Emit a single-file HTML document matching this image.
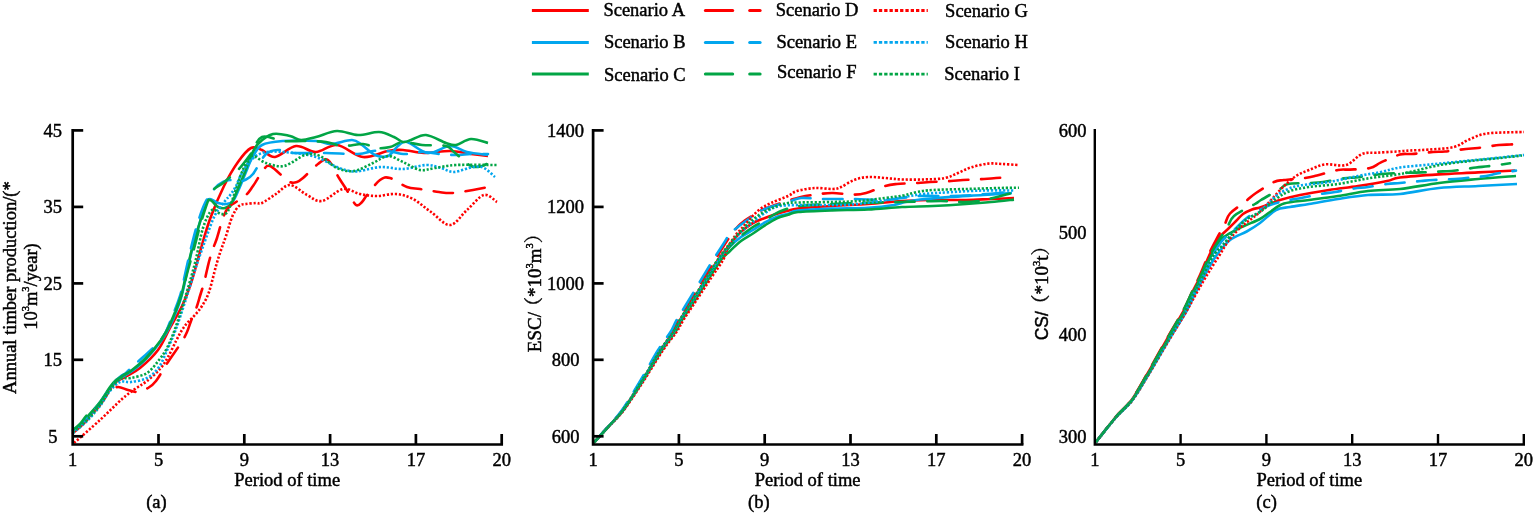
<!DOCTYPE html>
<html><head><meta charset="utf-8"><title>Figure</title>
<style>html,body{margin:0;padding:0;background:#fff;width:1535px;height:514px;overflow:hidden;position:relative}</style>
</head><body>
<svg width="1535" height="514" viewBox="0 0 1535 514" style="position:absolute;left:0;top:0">
<g font-family="'Liberation Serif','Noto Serif CJK SC',serif" font-size="18.5" fill="#000" stroke="#000" stroke-width="0.45">
<line x1="531.9" y1="10.5" x2="588.8" y2="10.5" stroke="#ff0000" stroke-width="3"/>
<line x1="705.4" y1="10.5" x2="732.7" y2="10.5" stroke="#ff0000" stroke-width="3" stroke-linecap="round"/>
<line x1="749.7" y1="10.5" x2="760.1" y2="10.5" stroke="#ff0000" stroke-width="3" stroke-linecap="round"/>
<line x1="873.6" y1="10.5" x2="927.8" y2="10.5" stroke="#ff0000" stroke-width="2.9" stroke-dasharray="3.3 2"/>
<line x1="531.9" y1="42.4" x2="588.8" y2="42.4" stroke="#02a6ee" stroke-width="3"/>
<line x1="705.4" y1="42.4" x2="732.7" y2="42.4" stroke="#02a6ee" stroke-width="3" stroke-linecap="round"/>
<line x1="749.7" y1="42.4" x2="760.1" y2="42.4" stroke="#02a6ee" stroke-width="3" stroke-linecap="round"/>
<line x1="873.6" y1="42.4" x2="927.8" y2="42.4" stroke="#02a6ee" stroke-width="2.9" stroke-dasharray="3.3 2"/>
<line x1="531.9" y1="74.1" x2="588.8" y2="74.1" stroke="#02a545" stroke-width="3"/>
<line x1="705.4" y1="74.1" x2="732.7" y2="74.1" stroke="#02a545" stroke-width="3" stroke-linecap="round"/>
<line x1="749.7" y1="74.1" x2="760.1" y2="74.1" stroke="#02a545" stroke-width="3" stroke-linecap="round"/>
<line x1="873.6" y1="74.1" x2="927.8" y2="74.1" stroke="#02a545" stroke-width="2.9" stroke-dasharray="3.3 2"/>
<text x="603.4" y="16.0">Scenario A</text>
<text x="603.9" y="48.1">Scenario B</text>
<text x="604.0" y="81.4">Scenario C</text>
<text x="775.7" y="16.1">Scenario D</text>
<text x="776.4" y="47.7">Scenario E</text>
<text x="776.9" y="78.3">Scenario F</text>
<text x="945.1" y="16.5">Scenario G</text>
<text x="945.1" y="47.7">Scenario H</text>
<text x="944.3" y="80.1">Scenario I</text>
<path d="M73.0,432.0 C74.2,431.0 77.5,428.3 80.0,426.0 C82.5,423.7 84.7,421.7 88.0,418.0 C91.3,414.3 96.3,408.8 100.0,404.0 C103.7,399.2 107.3,392.7 110.0,389.0 C112.7,385.3 113.5,384.0 116.0,382.0 C118.5,380.0 121.0,379.3 125.0,377.0 C129.0,374.7 134.5,372.5 140.0,368.0 C145.5,363.5 153.0,356.7 158.0,350.0 C163.0,343.3 165.8,335.7 170.0,328.0 C174.2,320.3 179.3,312.0 183.0,304.0 C186.7,296.0 189.2,288.7 192.0,280.0 C194.8,271.3 197.0,262.2 200.0,252.0 C203.0,241.8 206.0,230.0 210.0,219.0 C214.0,208.0 219.3,195.5 224.0,186.0 C228.7,176.5 233.5,168.3 238.0,162.0 C242.5,155.7 247.0,150.0 251.0,148.0 C255.0,146.0 258.0,148.5 262.0,150.0 C266.0,151.5 269.3,157.7 275.0,157.0 C280.7,156.3 289.2,146.8 296.0,146.0 C302.8,145.2 309.2,152.2 316.0,152.0 C322.8,151.8 329.2,144.2 337.0,145.0 C344.8,145.8 354.5,156.0 363.0,157.0 C371.5,158.0 381.3,152.2 388.0,151.0 C394.7,149.8 397.0,149.7 403.0,150.0 C409.0,150.3 416.2,152.8 424.0,153.0 C431.8,153.2 442.2,150.8 450.0,151.0 C457.8,151.2 464.7,153.2 471.0,154.0 C477.3,154.8 485.2,155.7 488.0,156.0" fill="none" stroke="#ff0000" stroke-width="2.6"/>
<path d="M73.0,431.0 C74.2,430.0 77.5,427.3 80.0,425.0 C82.5,422.7 84.7,420.7 88.0,417.0 C91.3,413.3 96.3,407.8 100.0,403.0 C103.7,398.2 107.3,391.7 110.0,388.0 C112.7,384.3 114.0,382.8 116.0,381.0 C118.0,379.2 119.3,378.7 122.0,377.0 C124.7,375.3 128.0,374.0 132.0,371.0 C136.0,368.0 141.2,364.0 146.0,359.0 C150.8,354.0 157.0,346.5 161.0,341.0 C165.0,335.5 166.7,333.2 170.0,326.0 C173.3,318.8 178.2,307.0 181.0,298.0 C183.8,289.0 185.0,280.7 187.0,272.0 C189.0,263.3 190.8,254.3 193.0,246.0 C195.2,237.7 197.8,229.2 200.0,222.0 C202.2,214.8 204.3,206.8 206.0,203.0 C207.7,199.2 208.0,199.0 210.0,199.0 C212.0,199.0 215.3,202.2 218.0,203.0 C220.7,203.8 223.5,204.3 226.0,204.0 C228.5,203.7 230.8,203.5 233.0,201.0 C235.2,198.5 236.8,193.8 239.0,189.0 C241.2,184.2 243.8,177.2 246.0,172.0 C248.2,166.8 249.3,162.5 252.0,158.0 C254.7,153.5 256.8,147.8 262.0,145.0 C267.2,142.2 274.0,141.7 283.0,141.0 C292.0,140.3 308.0,140.5 316.0,141.0 C324.0,141.5 325.0,144.2 331.0,144.0 C337.0,143.8 346.8,139.8 352.0,140.0 C357.2,140.2 358.2,142.5 362.0,145.0 C365.8,147.5 370.7,153.2 375.0,155.0 C379.3,156.8 384.2,157.5 388.0,156.0 C391.8,154.5 394.8,148.3 398.0,146.0 C401.2,143.7 402.0,140.8 407.0,142.0 C412.0,143.2 420.8,152.3 428.0,153.0 C435.2,153.7 443.5,146.2 450.0,146.0 C456.5,145.8 460.7,150.5 467.0,152.0 C473.3,153.5 484.5,154.5 488.0,155.0" fill="none" stroke="#02a6ee" stroke-width="2.6"/>
<path d="M73.0,431.0 C74.2,430.0 77.5,427.5 80.0,425.0 C82.5,422.5 84.7,419.8 88.0,416.0 C91.3,412.2 96.3,406.8 100.0,402.0 C103.7,397.2 107.3,390.7 110.0,387.0 C112.7,383.3 114.0,381.8 116.0,380.0 C118.0,378.2 119.3,377.7 122.0,376.0 C124.7,374.3 128.0,373.0 132.0,370.0 C136.0,367.0 141.2,363.0 146.0,358.0 C150.8,353.0 157.0,345.7 161.0,340.0 C165.0,334.3 166.7,331.3 170.0,324.0 C173.3,316.7 178.2,305.0 181.0,296.0 C183.8,287.0 185.0,278.5 187.0,270.0 C189.0,261.5 190.8,253.0 193.0,245.0 C195.2,237.0 198.0,228.7 200.0,222.0 C202.0,215.3 203.3,208.7 205.0,205.0 C206.7,201.3 207.8,199.7 210.0,200.0 C212.2,200.3 215.5,205.7 218.0,207.0 C220.5,208.3 222.8,208.5 225.0,208.0 C227.2,207.5 229.0,206.8 231.0,204.0 C233.0,201.2 234.7,196.3 237.0,191.0 C239.3,185.7 242.8,177.5 245.0,172.0 C247.2,166.5 247.8,162.7 250.0,158.0 C252.2,153.3 254.2,148.0 258.0,144.0 C261.8,140.0 267.7,135.3 273.0,134.0 C278.3,132.7 285.3,135.0 290.0,136.0 C294.7,137.0 296.7,139.8 301.0,140.0 C305.3,140.2 310.0,138.5 316.0,137.0 C322.0,135.5 330.0,131.3 337.0,131.0 C344.0,130.7 351.0,134.8 358.0,135.0 C365.0,135.2 373.0,131.7 379.0,132.0 C385.0,132.3 390.0,135.3 394.0,137.0 C398.0,138.7 400.2,141.5 403.0,142.0 C405.8,142.5 407.2,141.2 411.0,140.0 C414.8,138.8 420.2,134.5 426.0,135.0 C431.8,135.5 441.0,141.3 446.0,143.0 C451.0,144.7 451.8,145.7 456.0,145.0 C460.2,144.3 465.7,139.3 471.0,139.0 C476.3,138.7 485.2,142.3 488.0,143.0" fill="none" stroke="#02a545" stroke-width="2.6"/>
<path d="M73.0,433.0 C74.2,432.0 77.5,429.3 80.0,427.0 C82.5,424.7 84.7,422.7 88.0,419.0 C91.3,415.3 96.3,409.7 100.0,405.0 C103.7,400.3 107.0,394.0 110.0,391.0 C113.0,388.0 115.0,387.2 118.0,387.0 C121.0,386.8 124.7,389.2 128.0,390.0 C131.3,390.8 134.7,392.3 138.0,392.0 C141.3,391.7 145.0,389.8 148.0,388.0 C151.0,386.2 152.7,385.3 156.0,381.0 C159.3,376.7 163.8,368.3 168.0,362.0 C172.2,355.7 177.8,348.0 181.0,343.0 C184.2,338.0 185.3,335.7 187.0,332.0 C188.7,328.3 189.5,324.8 191.0,321.0 C192.5,317.2 194.5,313.2 196.0,309.0 C197.5,304.8 198.7,300.3 200.0,296.0 C201.3,291.7 202.8,287.3 204.0,283.0 C205.2,278.7 206.0,274.2 207.0,270.0 C208.0,265.8 208.8,262.0 210.0,258.0 C211.2,254.0 212.8,249.3 214.0,246.0 C215.2,242.7 215.5,242.7 217.0,238.0 C218.5,233.3 221.0,223.2 223.0,218.0 C225.0,212.8 225.3,210.7 229.0,207.0 C232.7,203.3 241.0,199.5 245.0,196.0 C249.0,192.5 249.8,190.5 253.0,186.0 C256.2,181.5 261.2,172.3 264.0,169.0 C266.8,165.7 267.3,165.2 270.0,166.0 C272.7,166.8 276.7,171.3 280.0,174.0 C283.3,176.7 287.2,180.7 290.0,182.0 C292.8,183.3 294.8,182.7 297.0,182.0 C299.2,181.3 299.5,181.0 303.0,178.0 C306.5,175.0 313.8,167.0 318.0,164.0 C322.2,161.0 324.5,157.7 328.0,160.0 C331.5,162.3 335.7,172.7 339.0,178.0 C342.3,183.3 345.2,187.5 348.0,192.0 C350.8,196.5 353.7,203.3 356.0,205.0 C358.3,206.7 360.2,203.7 362.0,202.0 C363.8,200.3 364.0,198.7 367.0,195.0 C370.0,191.3 376.2,182.8 380.0,180.0 C383.8,177.2 385.5,176.8 390.0,178.0 C394.5,179.2 402.0,185.2 407.0,187.0 C412.0,188.8 414.7,188.2 420.0,189.0 C425.3,189.8 433.7,191.3 439.0,192.0 C444.3,192.7 446.3,193.3 452.0,193.0 C457.7,192.7 467.0,191.0 473.0,190.0 C479.0,189.0 485.5,187.5 488.0,187.0" fill="none" stroke="#ff0000" stroke-width="2.6" stroke-dasharray="19.5 12.5" stroke-linecap="round"/>
<path d="M73.0,431.0 C74.2,430.0 77.5,427.3 80.0,425.0 C82.5,422.7 84.7,420.7 88.0,417.0 C91.3,413.3 96.3,407.8 100.0,403.0 C103.7,398.2 106.7,392.3 110.0,388.0 C113.3,383.7 117.3,379.5 120.0,377.0 C122.7,374.5 124.0,374.7 126.0,373.0 C128.0,371.3 129.3,369.5 132.0,367.0 C134.7,364.5 138.7,361.0 142.0,358.0 C145.3,355.0 148.5,352.5 152.0,349.0 C155.5,345.5 160.0,341.5 163.0,337.0 C166.0,332.5 167.2,328.8 170.0,322.0 C172.8,315.2 177.3,304.7 180.0,296.0 C182.7,287.3 184.0,278.7 186.0,270.0 C188.0,261.3 190.0,252.0 192.0,244.0 C194.0,236.0 195.8,228.8 198.0,222.0 C200.2,215.2 202.2,208.7 205.0,203.0 C207.8,197.3 212.0,191.5 215.0,188.0 C218.0,184.5 220.5,183.3 223.0,182.0 C225.5,180.7 227.7,180.0 230.0,180.0 C232.3,180.0 234.5,182.0 237.0,182.0 C239.5,182.0 242.3,181.3 245.0,180.0 C247.7,178.7 249.5,178.3 253.0,174.0 C256.5,169.7 261.7,158.0 266.0,154.0 C270.3,150.0 274.3,150.2 279.0,150.0 C283.7,149.8 286.2,152.5 294.0,153.0 C301.8,153.5 315.3,152.8 326.0,153.0 C336.7,153.2 350.2,154.3 358.0,154.0 C365.8,153.7 368.0,151.5 373.0,151.0 C378.0,150.5 382.7,150.5 388.0,151.0 C393.3,151.5 399.3,153.8 405.0,154.0 C410.7,154.2 416.3,152.0 422.0,152.0 C427.7,152.0 433.3,153.5 439.0,154.0 C444.7,154.5 450.7,155.0 456.0,155.0 C461.3,155.0 465.7,154.2 471.0,154.0 C476.3,153.8 485.2,154.0 488.0,154.0" fill="none" stroke="#02a6ee" stroke-width="2.6" stroke-dasharray="19.5 12.5" stroke-linecap="round"/>
<path d="M73.0,430.0 C74.2,429.0 77.7,426.5 80.0,424.0 C82.3,421.5 84.7,417.3 87.0,415.0 C89.3,412.7 91.8,412.0 94.0,410.0 C96.2,408.0 97.3,406.7 100.0,403.0 C102.7,399.3 107.3,391.7 110.0,388.0 C112.7,384.3 114.0,383.0 116.0,381.0 C118.0,379.0 119.3,377.8 122.0,376.0 C124.7,374.2 128.0,373.0 132.0,370.0 C136.0,367.0 141.2,363.0 146.0,358.0 C150.8,353.0 156.8,346.0 161.0,340.0 C165.2,334.0 167.7,329.3 171.0,322.0 C174.3,314.7 178.2,304.7 181.0,296.0 C183.8,287.3 185.7,278.5 188.0,270.0 C190.3,261.5 192.7,253.5 195.0,245.0 C197.3,236.5 199.2,227.8 202.0,219.0 C204.8,210.2 208.5,198.0 212.0,192.0 C215.5,186.0 218.7,186.7 223.0,183.0 C227.3,179.3 233.5,174.7 238.0,170.0 C242.5,165.3 246.0,160.5 250.0,155.0 C254.0,149.5 256.5,139.3 262.0,137.0 C267.5,134.7 275.8,140.3 283.0,141.0 C290.2,141.7 297.8,140.8 305.0,141.0 C312.2,141.2 319.7,141.2 326.0,142.0 C332.3,142.8 336.8,145.7 343.0,146.0 C349.2,146.3 357.3,143.7 363.0,144.0 C368.7,144.3 372.5,147.5 377.0,148.0 C381.5,148.5 385.7,148.0 390.0,147.0 C394.3,146.0 397.7,142.3 403.0,142.0 C408.3,141.7 414.8,144.3 422.0,145.0 C429.2,145.7 440.7,144.8 446.0,146.0 C451.3,147.2 449.8,148.7 454.0,152.0 C458.2,155.3 466.3,163.7 471.0,166.0 C475.7,168.3 478.8,166.7 482.0,166.0 C485.2,165.3 488.7,162.7 490.0,162.0" fill="none" stroke="#02a545" stroke-width="2.6" stroke-dasharray="19.5 12.5" stroke-linecap="round"/>
<path d="M74.0,443.0 C78.3,439.2 92.0,427.3 100.0,420.0 C108.0,412.7 116.2,404.2 122.0,399.0 C127.8,393.8 130.8,392.0 135.0,389.0 C139.2,386.0 142.8,384.3 147.0,381.0 C151.2,377.7 156.5,373.0 160.0,369.0 C163.5,365.0 165.3,361.7 168.0,357.0 C170.7,352.3 173.7,345.5 176.0,341.0 C178.3,336.5 180.0,333.2 182.0,330.0 C184.0,326.8 185.8,324.5 188.0,322.0 C190.2,319.5 192.7,317.7 195.0,315.0 C197.3,312.3 199.7,309.8 202.0,306.0 C204.3,302.2 206.7,298.7 209.0,292.0 C211.3,285.3 214.0,273.0 216.0,266.0 C218.0,259.0 219.3,255.0 221.0,250.0 C222.7,245.0 224.1,241.7 226.0,236.0 C227.9,230.3 230.3,221.0 232.5,216.0 C234.7,211.0 236.8,208.0 239.0,206.0 C241.2,204.0 243.2,204.5 246.0,204.0 C248.8,203.5 253.3,203.2 256.0,203.0 C258.7,202.8 258.7,204.5 262.0,203.0 C265.3,201.5 271.3,197.0 276.0,194.0 C280.7,191.0 284.8,184.8 290.0,185.0 C295.2,185.2 301.7,192.3 307.0,195.0 C312.3,197.7 316.0,202.0 322.0,201.0 C328.0,200.0 336.7,190.2 343.0,189.0 C349.3,187.8 354.3,192.8 360.0,194.0 C365.7,195.2 371.0,196.0 377.0,196.0 C383.0,196.0 390.0,193.5 396.0,194.0 C402.0,194.5 407.2,196.0 413.0,199.0 C418.8,202.0 424.8,207.7 431.0,212.0 C437.2,216.3 444.0,225.3 450.0,225.0 C456.0,224.7 461.3,215.0 467.0,210.0 C472.7,205.0 479.0,196.3 484.0,195.0 C489.0,193.7 494.8,200.8 497.0,202.0" fill="none" stroke="#ff0000" stroke-width="2.6" stroke-dasharray="2.2 1.8"/>
<path d="M73.0,433.0 C75.5,430.8 83.5,424.5 88.0,420.0 C92.5,415.5 96.3,410.8 100.0,406.0 C103.7,401.2 106.7,395.0 110.0,391.0 C113.3,387.0 116.5,383.5 120.0,382.0 C123.5,380.5 126.5,382.7 131.0,382.0 C135.5,381.3 142.3,380.5 147.0,378.0 C151.7,375.5 155.5,372.0 159.0,367.0 C162.5,362.0 165.2,354.3 168.0,348.0 C170.8,341.7 173.2,336.7 176.0,329.0 C178.8,321.3 181.8,311.8 185.0,302.0 C188.2,292.2 191.7,280.2 195.0,270.0 C198.3,259.8 201.7,250.2 205.0,241.0 C208.3,231.8 211.7,221.7 215.0,215.0 C218.3,208.3 222.3,204.5 225.0,201.0 C227.7,197.5 229.2,196.5 231.0,194.0 C232.8,191.5 234.2,189.5 236.0,186.0 C237.8,182.5 239.5,177.3 242.0,173.0 C244.5,168.7 247.0,163.5 251.0,160.0 C255.0,156.5 258.8,153.2 266.0,152.0 C273.2,150.8 285.7,152.2 294.0,153.0 C302.3,153.8 308.8,154.7 316.0,157.0 C323.2,159.3 331.3,164.7 337.0,167.0 C342.7,169.3 346.2,170.3 350.0,171.0 C353.8,171.7 354.8,171.7 360.0,171.0 C365.2,170.3 373.8,167.3 381.0,167.0 C388.2,166.7 395.5,169.3 403.0,169.0 C410.5,168.7 419.7,165.2 426.0,165.0 C432.3,164.8 436.3,166.8 441.0,168.0 C445.7,169.2 448.7,172.2 454.0,172.0 C459.3,171.8 468.0,167.7 473.0,167.0 C478.0,166.3 480.3,166.3 484.0,168.0 C487.7,169.7 493.2,175.5 495.0,177.0" fill="none" stroke="#02a6ee" stroke-width="2.6" stroke-dasharray="2.2 1.8"/>
<path d="M73.0,432.0 C75.5,429.8 83.5,423.5 88.0,419.0 C92.5,414.5 96.3,409.8 100.0,405.0 C103.7,400.2 106.7,394.3 110.0,390.0 C113.3,385.7 116.5,381.0 120.0,379.0 C123.5,377.0 126.5,379.0 131.0,378.0 C135.5,377.0 142.3,376.0 147.0,373.0 C151.7,370.0 155.7,364.2 159.0,360.0 C162.3,355.8 164.3,353.2 167.0,348.0 C169.7,342.8 172.0,337.3 175.0,329.0 C178.0,320.7 181.7,309.0 185.0,298.0 C188.3,287.0 192.0,274.7 195.0,263.0 C198.0,251.3 200.2,236.8 203.0,228.0 C205.8,219.2 209.0,212.3 212.0,210.0 C215.0,207.7 218.3,213.8 221.0,214.0 C223.7,214.2 225.5,215.2 228.0,211.0 C230.5,206.8 233.7,195.5 236.0,189.0 C238.3,182.5 239.5,177.5 242.0,172.0 C244.5,166.5 247.0,157.5 251.0,156.0 C255.0,154.5 260.5,161.3 266.0,163.0 C271.5,164.7 277.5,167.3 284.0,166.0 C290.5,164.7 299.0,156.7 305.0,155.0 C311.0,153.3 314.7,153.8 320.0,156.0 C325.3,158.2 331.3,165.5 337.0,168.0 C342.7,170.5 348.0,171.8 354.0,171.0 C360.0,170.2 367.3,165.5 373.0,163.0 C378.7,160.5 383.0,156.2 388.0,156.0 C393.0,155.8 397.7,159.7 403.0,162.0 C408.3,164.3 414.7,169.0 420.0,170.0 C425.3,171.0 429.0,168.8 435.0,168.0 C441.0,167.2 445.7,165.5 456.0,165.0 C466.3,164.5 490.2,165.0 497.0,165.0" fill="none" stroke="#02a545" stroke-width="2.6" stroke-dasharray="2.2 1.8"/>
<path d="M594.5,442.0 C596.8,439.5 603.2,432.3 608.0,427.0 C612.8,421.7 617.2,417.8 623.0,410.0 C628.8,402.2 636.2,390.0 642.5,380.0 C648.8,370.0 655.4,358.0 660.6,350.0 C665.8,342.0 670.3,337.0 673.5,332.0 C676.7,327.0 677.0,325.0 680.0,320.0 C683.0,315.0 687.0,309.1 691.5,302.0 C696.0,294.9 702.6,284.4 707.0,277.4 C711.4,270.4 714.0,265.7 718.0,260.0 C722.0,254.3 727.0,247.8 731.0,243.0 C735.0,238.2 738.3,234.3 742.0,231.0 C745.7,227.7 749.2,225.2 753.0,223.0 C756.8,220.8 761.0,219.6 765.0,218.0 C769.0,216.4 773.2,214.9 777.0,213.7 C780.8,212.5 784.5,211.7 788.0,210.8 C791.5,209.9 790.7,209.3 798.0,208.5 C805.3,207.7 820.3,206.8 832.0,206.0 C843.7,205.2 856.3,204.8 868.0,204.0 C879.7,203.2 891.2,201.7 902.0,201.0 C912.8,200.3 922.3,200.2 933.0,200.0 C943.7,199.8 956.3,200.2 966.0,200.0 C975.7,199.8 983.0,199.3 991.0,199.0 C999.0,198.7 1010.2,198.2 1014.0,198.0" fill="none" stroke="#ff0000" stroke-width="2.6"/>
<path d="M594.5,442.0 C596.8,439.5 603.3,432.3 608.1,427.0 C612.9,421.7 617.4,417.8 623.2,410.0 C629.0,402.2 636.5,390.0 642.8,380.0 C649.1,370.0 655.9,358.0 661.1,350.0 C666.3,342.0 670.8,337.0 674.1,332.0 C677.4,327.0 677.7,325.0 680.7,320.0 C683.7,315.0 687.8,309.1 692.3,302.0 C696.8,294.9 703.4,284.4 707.9,277.4 C712.4,270.4 715.3,265.1 719.0,260.0 C722.7,254.8 726.3,250.3 730.0,246.5 C733.7,242.7 737.2,239.8 741.0,237.0 C744.8,234.2 749.0,232.4 753.0,230.0 C757.0,227.6 761.0,224.6 765.0,222.4 C769.0,220.2 773.2,218.1 777.0,216.6 C780.8,215.1 784.5,214.7 788.0,213.7 C791.5,212.7 790.7,211.3 798.0,210.5 C805.3,209.7 820.3,209.0 832.0,208.6 C843.7,208.2 857.7,208.4 868.0,207.8 C878.3,207.2 887.8,206.0 894.0,205.0 C900.2,204.0 900.7,202.9 905.0,202.0 C909.3,201.1 912.5,200.3 920.0,199.5 C927.5,198.7 939.5,197.8 950.0,197.0 C960.5,196.2 972.7,195.7 983.0,195.0 C993.3,194.3 1007.2,193.3 1012.0,193.0" fill="none" stroke="#02a6ee" stroke-width="2.6"/>
<path d="M594.5,442.0 C596.8,439.5 603.4,432.3 608.2,427.0 C613.0,421.7 617.6,417.8 623.5,410.0 C629.4,402.2 637.1,390.0 643.5,380.0 C649.9,370.0 656.8,358.0 662.1,350.0 C667.4,342.0 672.0,337.0 675.3,332.0 C678.6,327.0 678.9,325.0 682.0,320.0 C685.1,315.0 689.2,309.1 693.8,302.0 C698.4,294.9 705.2,284.4 709.7,277.4 C714.2,270.4 717.6,264.4 721.0,260.0 C724.4,255.6 726.7,254.2 730.0,251.0 C733.3,247.8 737.2,243.9 741.0,241.0 C744.8,238.1 749.0,236.1 753.0,233.5 C757.0,230.9 761.0,227.8 765.0,225.3 C769.0,222.8 773.2,220.1 777.0,218.3 C780.8,216.6 784.5,215.9 788.0,214.8 C791.5,213.8 790.7,212.7 798.0,212.0 C805.3,211.3 820.3,210.8 832.0,210.4 C843.7,210.0 856.3,210.1 868.0,209.5 C879.7,208.9 891.2,207.6 902.0,207.0 C912.8,206.4 922.3,206.5 933.0,206.0 C943.7,205.5 956.3,204.7 966.0,204.0 C975.7,203.3 983.0,202.7 991.0,202.0 C999.0,201.3 1010.2,200.0 1014.0,199.6" fill="none" stroke="#02a545" stroke-width="2.6"/>
<path d="M594.5,442.0 C596.7,439.5 603.1,432.3 607.8,427.0 C612.5,421.7 616.9,417.8 622.5,410.0 C628.1,402.2 635.4,390.0 641.5,380.0 C647.6,370.0 654.1,358.0 659.1,350.0 C664.1,342.0 668.6,337.0 671.7,332.0 C674.9,327.0 675.1,325.0 678.0,320.0 C680.9,315.0 684.8,309.1 689.2,302.0 C693.6,294.9 700.0,284.4 704.3,277.4 C708.6,270.4 710.9,266.6 715.0,260.0 C719.1,253.4 724.8,244.0 729.0,238.0 C733.2,232.0 736.2,227.9 740.5,224.0 C744.8,220.1 750.9,216.6 754.5,214.3 C758.1,212.0 757.6,211.9 762.0,210.0 C766.4,208.1 774.5,205.2 781.0,203.0 C787.5,200.8 794.5,198.5 801.0,197.0 C807.5,195.5 814.7,194.7 820.0,194.0 C825.3,193.3 827.3,192.9 833.0,193.0 C838.7,193.1 848.5,194.6 854.0,194.6 C859.5,194.6 860.8,194.4 866.0,193.0 C871.2,191.6 879.8,187.5 885.0,186.0 C890.2,184.5 891.5,184.5 897.0,184.0 C902.5,183.5 912.5,183.3 918.0,183.0 C923.5,182.7 924.5,182.3 930.0,182.0 C935.5,181.7 945.5,181.3 951.0,181.0 C956.5,180.7 957.5,180.3 963.0,180.0 C968.5,179.7 978.5,179.3 984.0,179.0 C989.5,178.7 991.5,178.3 996.0,178.0 C1000.5,177.7 1008.5,177.2 1011.0,177.0" fill="none" stroke="#ff0000" stroke-width="2.6" stroke-dasharray="19.5 12.5" stroke-linecap="round"/>
<path d="M594.5,442.0 C596.7,439.5 603.0,432.3 607.6,427.0 C612.2,421.7 616.6,417.8 622.1,410.0 C627.6,402.2 634.8,390.0 640.8,380.0 C646.8,370.0 653.1,358.0 658.1,350.0 C663.1,342.0 667.4,337.0 670.5,332.0 C673.6,327.0 673.7,325.0 676.6,320.0 C679.5,315.0 683.4,309.1 687.7,302.0 C692.0,294.9 698.3,284.4 702.5,277.4 C706.7,270.4 709.4,265.7 713.0,260.0 C716.6,254.3 721.2,247.4 724.0,243.0 C726.8,238.6 727.8,236.1 730.0,233.5 C732.2,230.9 733.7,230.3 737.0,227.7 C740.3,225.1 746.2,220.8 750.0,218.0 C753.8,215.2 756.5,212.9 760.0,211.0 C763.5,209.1 766.3,208.2 771.0,206.7 C775.7,205.2 783.0,203.4 788.0,202.0 C793.0,200.6 795.3,198.5 801.0,198.0 C806.7,197.5 813.3,198.8 822.0,199.0 C830.7,199.2 842.5,198.8 853.0,199.0 C863.5,199.2 876.8,200.2 885.0,200.0 C893.2,199.8 896.2,198.7 902.0,198.0 C907.8,197.3 912.0,196.3 920.0,196.0 C928.0,195.7 941.0,196.2 950.0,196.0 C959.0,195.8 965.8,195.5 974.0,195.0 C982.2,194.5 992.7,193.6 999.0,193.0 C1005.3,192.4 1009.8,191.8 1012.0,191.5" fill="none" stroke="#02a6ee" stroke-width="2.6" stroke-dasharray="19.5 12.5" stroke-linecap="round"/>
<path d="M594.5,442.0 C596.8,439.5 603.4,432.3 608.2,427.0 C613.0,421.7 617.6,417.8 623.4,410.0 C629.2,402.2 636.8,390.0 643.2,380.0 C649.6,370.0 656.4,358.0 661.6,350.0 C666.9,342.0 671.4,337.0 674.7,332.0 C678.0,327.0 678.2,325.0 681.3,320.0 C684.3,315.0 688.4,309.1 693.0,302.0 C697.6,294.9 704.3,284.4 708.8,277.4 C713.3,270.4 716.3,265.4 720.0,260.0 C723.7,254.6 727.3,249.2 731.0,245.0 C734.7,240.8 738.3,238.0 742.0,235.0 C745.7,232.0 749.2,229.5 753.0,227.0 C756.8,224.5 760.3,222.7 765.0,220.0 C769.7,217.3 775.2,213.3 781.0,211.0 C786.8,208.7 791.5,207.2 800.0,206.0 C808.5,204.8 822.0,204.5 832.0,204.0 C842.0,203.5 848.7,203.3 860.0,203.0 C871.3,202.7 886.5,202.3 900.0,202.0 C913.5,201.7 930.5,201.0 941.0,201.0 C951.5,201.0 956.7,202.0 963.0,202.0 C969.3,202.0 974.0,201.7 979.0,201.0 C984.0,200.3 987.5,199.3 993.0,198.0 C998.5,196.7 1008.8,193.8 1012.0,193.0" fill="none" stroke="#02a545" stroke-width="2.6" stroke-dasharray="19.5 12.5" stroke-linecap="round"/>
<path d="M594.5,442.0 C596.8,439.5 603.5,432.3 608.4,427.0 C613.3,421.7 617.9,417.8 623.9,410.0 C629.9,402.2 637.7,390.0 644.2,380.0 C650.7,370.0 657.7,358.0 663.1,350.0 C668.5,342.0 673.1,337.0 676.5,332.0 C679.9,327.0 680.3,325.0 683.4,320.0 C686.5,315.0 690.6,309.1 695.3,302.0 C700.0,294.9 706.9,284.4 711.5,277.4 C716.1,270.4 720.2,265.1 723.0,260.0 C725.8,254.9 726.0,251.0 728.0,247.0 C730.0,243.0 732.7,239.2 735.0,236.0 C737.3,232.8 739.5,230.8 742.0,228.0 C744.5,225.2 747.2,222.0 750.0,219.0 C752.8,216.0 755.5,212.7 759.0,210.0 C762.5,207.3 766.2,205.3 771.0,203.0 C775.8,200.7 783.7,198.0 788.0,196.0 C792.3,194.0 792.5,192.3 797.0,191.0 C801.5,189.7 809.0,188.3 815.0,188.0 C821.0,187.7 828.7,189.2 833.0,189.0 C837.3,188.8 837.5,188.5 841.0,187.0 C844.5,185.5 849.5,181.7 854.0,180.0 C858.5,178.3 862.8,177.3 868.0,177.0 C873.2,176.7 879.2,177.6 885.0,178.0 C890.8,178.4 896.3,179.3 903.0,179.5 C909.7,179.7 918.0,179.7 925.0,179.4 C932.0,179.2 939.5,179.1 945.0,178.0 C950.5,176.9 953.7,174.8 958.0,173.0 C962.3,171.2 966.0,169.0 971.0,167.4 C976.0,165.8 982.8,164.2 988.0,163.6 C993.2,163.0 997.0,163.8 1002.0,164.0 C1007.0,164.2 1015.3,164.8 1018.0,165.0" fill="none" stroke="#ff0000" stroke-width="2.6" stroke-dasharray="2.2 1.8"/>
<path d="M594.5,442.0 C596.8,439.5 603.2,432.3 608.0,427.0 C612.8,421.7 617.3,417.8 623.1,410.0 C628.9,402.2 636.4,390.0 642.7,380.0 C649.0,370.0 655.7,358.0 660.9,350.0 C666.1,342.0 670.6,337.0 673.8,332.0 C677.0,327.0 677.3,325.0 680.3,320.0 C683.3,315.0 687.4,309.1 691.9,302.0 C696.4,294.9 703.1,284.4 707.5,277.4 C711.9,270.4 714.6,265.7 718.5,260.0 C722.4,254.3 727.1,247.8 731.0,243.0 C734.9,238.2 738.3,234.5 742.0,231.0 C745.7,227.5 749.2,225.0 753.0,222.0 C756.8,219.0 760.5,215.7 765.0,213.0 C769.5,210.3 771.7,207.3 780.0,206.0 C788.3,204.7 803.3,205.2 815.0,205.0 C826.7,204.8 839.8,205.2 850.0,204.6 C860.2,204.0 867.3,202.8 876.0,201.6 C884.7,200.4 893.8,198.6 902.0,197.3 C910.2,196.0 917.0,194.7 925.0,193.8 C933.0,193.0 940.3,192.8 950.0,192.2 C959.7,191.6 972.3,190.8 983.0,190.5 C993.7,190.2 1008.8,190.5 1014.0,190.5" fill="none" stroke="#02a6ee" stroke-width="2.6" stroke-dasharray="2.2 1.8"/>
<path d="M594.5,442.0 C596.8,439.5 603.3,432.3 608.0,427.0 C612.7,421.7 617.2,417.8 622.9,410.0 C628.6,402.2 636.1,390.0 642.3,380.0 C648.5,370.0 655.1,358.0 660.3,350.0 C665.4,342.0 670.0,337.0 673.2,332.0 C676.4,327.0 676.7,325.0 679.7,320.0 C682.7,315.0 686.6,309.1 691.1,302.0 C695.6,294.9 702.1,284.4 706.5,277.4 C710.9,270.4 713.4,265.9 717.5,260.0 C721.6,254.1 726.9,247.0 731.0,242.0 C735.1,237.0 738.3,233.8 742.0,230.0 C745.7,226.2 749.2,222.6 753.0,219.5 C756.8,216.4 761.0,213.6 765.0,211.3 C769.0,209.1 773.2,207.4 777.0,206.0 C780.8,204.6 784.5,203.6 788.0,203.0 C791.5,202.4 790.5,202.7 798.0,202.5 C805.5,202.3 822.8,202.2 833.0,202.0 C843.2,201.8 850.3,201.7 859.0,201.0 C867.7,200.3 877.7,198.9 885.0,198.0 C892.3,197.1 897.7,196.5 903.0,195.5 C908.3,194.5 912.0,192.9 917.0,192.0 C922.0,191.1 924.8,190.5 933.0,190.0 C941.2,189.5 955.0,189.3 966.0,189.0 C977.0,188.7 990.2,188.2 999.0,188.0 C1007.8,187.8 1015.7,187.8 1019.0,187.7" fill="none" stroke="#02a545" stroke-width="2.6" stroke-dasharray="2.2 1.8"/>
<path d="M1096.0,442.0 C1099.3,437.8 1109.9,424.0 1115.8,417.0 C1121.7,410.0 1126.3,407.2 1131.6,400.0 C1136.8,392.8 1141.6,383.8 1147.3,374.0 C1153.0,364.2 1159.9,351.7 1166.0,341.0 C1172.1,330.3 1179.7,318.0 1184.0,310.0 C1188.3,302.0 1189.2,298.8 1192.0,293.0 C1194.8,287.2 1198.2,281.2 1201.0,275.0 C1203.8,268.8 1206.2,262.0 1209.0,256.0 C1211.8,250.0 1214.7,243.7 1218.0,239.0 C1221.3,234.3 1226.0,231.0 1229.0,228.0 C1232.0,225.0 1233.7,223.3 1236.0,221.0 C1238.3,218.7 1240.3,215.9 1243.0,214.0 C1245.7,212.1 1249.2,210.6 1252.0,209.5 C1254.8,208.4 1256.8,208.5 1260.0,207.5 C1263.2,206.5 1267.7,204.8 1271.0,203.5 C1274.3,202.2 1275.2,201.4 1280.0,200.0 C1284.8,198.6 1291.8,196.7 1300.0,195.0 C1308.2,193.3 1319.3,191.5 1329.0,190.0 C1338.7,188.5 1348.3,187.5 1358.0,186.0 C1367.7,184.5 1380.0,182.4 1387.0,181.0 C1394.0,179.6 1391.3,178.6 1400.0,177.5 C1408.7,176.4 1426.0,175.2 1439.0,174.4 C1452.0,173.6 1465.3,173.1 1478.0,172.4 C1490.7,171.8 1508.8,170.8 1515.0,170.5" fill="none" stroke="#ff0000" stroke-width="2.6"/>
<path d="M1096.0,442.0 C1099.4,437.8 1110.2,424.0 1116.3,417.0 C1122.4,410.0 1127.1,407.2 1132.5,400.0 C1137.9,392.8 1142.8,383.8 1148.8,374.0 C1154.8,364.2 1162.0,351.3 1168.2,341.0 C1174.4,330.7 1181.5,319.8 1186.0,312.0 C1190.5,304.2 1191.8,300.2 1195.0,294.0 C1198.2,287.8 1201.5,281.3 1205.0,275.0 C1208.5,268.7 1211.8,261.8 1216.0,256.0 C1220.2,250.2 1224.9,244.1 1230.0,240.0 C1235.1,235.9 1241.7,234.3 1246.7,231.5 C1251.7,228.7 1255.1,226.6 1260.0,223.0 C1264.9,219.4 1271.0,212.7 1276.0,210.0 C1281.0,207.3 1284.5,208.0 1290.0,207.0 C1295.5,206.0 1301.0,205.3 1309.0,204.0 C1317.0,202.7 1328.2,200.5 1338.0,199.0 C1347.8,197.5 1357.7,195.8 1368.0,195.0 C1378.3,194.2 1388.2,195.2 1400.0,194.0 C1411.8,192.8 1426.0,189.3 1439.0,188.0 C1452.0,186.7 1465.0,186.7 1478.0,186.0 C1491.0,185.3 1510.5,184.3 1517.0,184.0" fill="none" stroke="#02a6ee" stroke-width="2.6"/>
<path d="M1096.0,442.0 C1099.3,437.8 1110.0,424.0 1116.0,417.0 C1122.0,410.0 1126.7,407.2 1132.0,400.0 C1137.3,392.8 1142.2,383.8 1148.0,374.0 C1153.8,364.2 1160.8,351.7 1167.0,341.0 C1173.2,330.3 1180.7,318.0 1185.0,310.0 C1189.3,302.0 1190.2,298.8 1193.0,293.0 C1195.8,287.2 1199.0,281.2 1202.0,275.0 C1205.0,268.8 1207.8,261.8 1211.0,256.0 C1214.2,250.2 1217.5,244.0 1221.0,240.0 C1224.5,236.0 1228.2,234.3 1232.0,232.0 C1235.8,229.7 1239.3,228.2 1244.0,226.0 C1248.7,223.8 1255.7,221.3 1260.0,219.0 C1264.3,216.7 1266.0,214.6 1270.0,212.0 C1274.0,209.4 1277.5,205.5 1284.0,203.5 C1290.5,201.5 1300.0,201.2 1309.0,200.0 C1318.0,198.8 1328.2,197.5 1338.0,196.0 C1347.8,194.5 1357.7,192.2 1368.0,191.0 C1378.3,189.8 1388.2,190.3 1400.0,189.0 C1411.8,187.7 1426.0,184.7 1439.0,183.0 C1452.0,181.3 1465.2,180.2 1478.0,179.0 C1490.8,177.8 1509.7,176.5 1516.0,176.0" fill="none" stroke="#02a545" stroke-width="2.6"/>
<path d="M1096.0,442.0 C1099.3,437.8 1109.7,424.0 1115.6,417.0 C1121.5,410.0 1126.2,407.2 1131.4,400.0 C1136.6,392.8 1141.3,383.8 1147.0,374.0 C1152.7,364.2 1159.3,351.8 1165.5,341.0 C1171.7,330.2 1179.6,317.2 1184.0,309.0 C1188.4,300.8 1189.3,297.7 1192.0,292.0 C1194.7,286.3 1197.3,281.0 1200.0,275.0 C1202.7,269.0 1205.2,262.2 1208.0,256.0 C1210.8,249.8 1214.2,243.2 1217.0,238.0 C1219.8,232.8 1222.3,229.1 1224.5,225.0 C1226.7,220.9 1226.5,217.4 1230.0,213.5 C1233.5,209.6 1241.2,204.9 1245.5,201.5 C1249.8,198.1 1251.2,196.2 1256.0,193.0 C1260.8,189.8 1269.3,184.2 1274.0,182.0 C1278.7,179.8 1278.8,180.7 1284.0,180.0 C1289.2,179.3 1299.5,178.8 1305.0,178.0 C1310.5,177.2 1311.5,176.8 1317.0,175.5 C1322.5,174.2 1332.5,171.0 1338.0,170.0 C1343.5,169.0 1344.7,169.9 1350.0,169.6 C1355.3,169.3 1364.8,169.2 1370.0,168.0 C1375.2,166.8 1376.0,164.7 1381.0,162.4 C1386.0,160.2 1394.8,155.9 1400.0,154.5 C1405.2,153.1 1406.5,154.4 1412.0,154.0 C1417.5,153.6 1427.5,152.4 1433.0,152.0 C1438.5,151.6 1439.5,152.0 1445.0,151.5 C1450.5,151.0 1460.5,149.6 1466.0,149.0 C1471.5,148.4 1472.5,148.7 1478.0,148.0 C1483.5,147.3 1493.7,145.6 1499.0,145.0 C1504.3,144.4 1507.0,144.7 1510.0,144.5 C1513.0,144.3 1515.8,144.1 1517.0,144.0" fill="none" stroke="#ff0000" stroke-width="2.6" stroke-dasharray="19.5 12.5" stroke-linecap="round"/>
<path d="M1096.0,442.0 C1099.3,437.8 1110.1,424.0 1116.1,417.0 C1122.1,410.0 1126.8,407.2 1132.1,400.0 C1137.4,392.8 1142.3,383.8 1148.2,374.0 C1154.1,364.2 1161.2,351.5 1167.3,341.0 C1173.4,330.5 1180.5,319.0 1185.0,311.0 C1189.5,303.0 1191.0,299.0 1194.0,293.0 C1197.0,287.0 1200.0,281.2 1203.0,275.0 C1206.0,268.8 1208.8,261.7 1212.0,256.0 C1215.2,250.3 1218.2,245.5 1222.0,241.0 C1225.8,236.5 1230.7,233.0 1235.0,229.0 C1239.3,225.0 1242.2,221.0 1248.0,217.0 C1253.8,213.0 1263.0,207.8 1270.0,205.0 C1277.0,202.2 1284.8,201.2 1290.0,200.0 C1295.2,198.8 1295.8,199.0 1301.0,198.0 C1306.2,197.0 1315.3,195.0 1321.0,194.0 C1326.7,193.0 1329.5,192.9 1335.0,192.0 C1340.5,191.1 1348.5,189.3 1354.0,188.5 C1359.5,187.7 1362.5,187.8 1368.0,187.0 C1373.5,186.2 1381.7,184.7 1387.0,184.0 C1392.3,183.3 1394.3,183.5 1400.0,183.0 C1405.7,182.5 1415.5,181.5 1421.0,181.0 C1426.5,180.5 1427.3,180.3 1433.0,180.0 C1438.7,179.7 1449.5,179.3 1455.0,179.0 C1460.5,178.7 1460.8,178.5 1466.0,178.0 C1471.2,177.5 1480.8,176.8 1486.0,176.0 C1491.2,175.2 1492.0,174.4 1497.0,173.5 C1502.0,172.6 1512.8,171.1 1516.0,170.6" fill="none" stroke="#02a6ee" stroke-width="2.6" stroke-dasharray="19.5 12.5" stroke-linecap="round"/>
<path d="M1096.0,442.0 C1099.3,437.8 1109.9,424.0 1115.8,417.0 C1121.7,410.0 1126.3,407.2 1131.6,400.0 C1136.8,392.8 1141.6,383.8 1147.3,374.0 C1153.0,364.2 1159.9,351.8 1166.0,341.0 C1172.1,330.2 1179.7,317.2 1184.0,309.0 C1188.3,300.8 1189.2,297.7 1192.0,292.0 C1194.8,286.3 1198.1,281.0 1201.0,275.0 C1203.9,269.0 1206.5,261.8 1209.5,256.0 C1212.5,250.2 1216.1,244.7 1219.0,240.0 C1221.9,235.3 1224.5,232.0 1227.0,228.0 C1229.5,224.0 1229.3,220.0 1234.0,216.0 C1238.7,212.0 1250.5,206.7 1255.0,204.0 C1259.5,201.3 1256.8,202.5 1261.0,200.0 C1265.2,197.5 1275.5,191.7 1280.0,189.0 C1284.5,186.3 1282.8,185.0 1288.0,184.0 C1293.2,183.0 1305.2,183.3 1311.0,183.0 C1316.8,182.7 1317.5,182.8 1323.0,182.0 C1328.5,181.2 1338.5,179.2 1344.0,178.4 C1349.5,177.6 1351.2,178.0 1356.0,177.4 C1360.8,176.8 1367.5,175.7 1373.0,175.0 C1378.5,174.3 1384.5,173.8 1389.0,173.5 C1393.5,173.2 1394.7,173.2 1400.0,173.0 C1405.3,172.8 1413.8,172.7 1421.0,172.4 C1428.2,172.1 1437.2,171.7 1443.0,171.4 C1448.8,171.1 1450.5,171.2 1456.0,170.5 C1461.5,169.8 1470.7,168.2 1476.0,167.5 C1481.3,166.8 1482.3,167.0 1488.0,166.3 C1493.7,165.6 1506.3,163.8 1510.0,163.3" fill="none" stroke="#02a545" stroke-width="2.6" stroke-dasharray="19.5 12.5" stroke-linecap="round"/>
<path d="M1096.0,442.0 C1099.4,437.8 1110.3,424.0 1116.4,417.0 C1122.5,410.0 1127.2,407.2 1132.6,400.0 C1138.0,392.8 1143.0,383.8 1149.0,374.0 C1155.0,364.2 1162.3,351.3 1168.5,341.0 C1174.7,330.7 1181.4,319.8 1186.0,312.0 C1190.6,304.2 1192.5,300.2 1196.0,294.0 C1199.5,287.8 1203.2,281.3 1207.0,275.0 C1210.8,268.7 1215.3,261.8 1219.0,256.0 C1222.7,250.2 1225.3,244.8 1229.0,240.0 C1232.7,235.2 1237.1,230.7 1241.0,227.0 C1244.9,223.3 1249.0,220.8 1252.5,218.0 C1256.0,215.2 1258.8,213.2 1262.0,210.0 C1265.2,206.8 1268.3,203.0 1272.0,199.0 C1275.7,195.0 1280.0,189.8 1284.0,186.0 C1288.0,182.2 1291.8,178.7 1296.0,176.0 C1300.2,173.3 1304.2,171.9 1309.0,170.0 C1313.8,168.1 1318.8,165.2 1325.0,164.4 C1331.2,163.6 1339.8,166.7 1346.0,165.0 C1352.2,163.3 1356.8,156.1 1362.0,154.0 C1367.2,151.9 1371.2,153.1 1377.0,152.7 C1382.8,152.3 1391.5,151.9 1397.0,151.5 C1402.5,151.1 1404.7,150.8 1410.0,150.5 C1415.3,150.2 1421.7,150.2 1429.0,149.6 C1436.3,149.0 1447.5,148.6 1454.0,147.0 C1460.5,145.4 1463.0,142.2 1468.0,140.0 C1473.0,137.8 1478.2,135.2 1484.0,134.0 C1489.8,132.8 1496.3,132.8 1503.0,132.5 C1509.7,132.2 1520.5,132.1 1524.0,132.0" fill="none" stroke="#ff0000" stroke-width="2.6" stroke-dasharray="2.2 1.8"/>
<path d="M1096.0,442.0 C1099.4,437.8 1110.2,424.0 1116.2,417.0 C1122.2,410.0 1126.9,407.2 1132.3,400.0 C1137.7,392.8 1142.5,383.8 1148.4,374.0 C1154.3,364.2 1161.5,351.5 1167.6,341.0 C1173.7,330.5 1180.6,319.0 1185.0,311.0 C1189.4,303.0 1190.9,299.0 1194.0,293.0 C1197.1,287.0 1200.3,281.2 1203.5,275.0 C1206.7,268.8 1209.8,261.0 1213.0,256.0 C1216.2,251.0 1219.3,249.3 1223.0,245.0 C1226.7,240.7 1231.0,234.3 1235.0,230.0 C1239.0,225.7 1242.8,222.1 1247.0,219.0 C1251.2,215.9 1255.2,215.3 1260.0,211.5 C1264.8,207.7 1271.3,199.8 1276.0,196.0 C1280.7,192.2 1284.0,190.8 1288.0,189.0 C1292.0,187.2 1293.2,186.7 1300.0,185.5 C1306.8,184.3 1319.3,183.6 1329.0,182.0 C1338.7,180.4 1349.3,177.7 1358.0,176.0 C1366.7,174.3 1374.0,173.4 1381.0,172.0 C1388.0,170.6 1392.0,168.7 1400.0,167.5 C1408.0,166.3 1419.3,165.6 1429.0,164.6 C1438.7,163.6 1448.2,162.7 1458.0,161.7 C1467.8,160.7 1477.0,159.9 1488.0,158.8 C1499.0,157.7 1518.0,155.6 1524.0,155.0" fill="none" stroke="#02a6ee" stroke-width="2.6" stroke-dasharray="2.2 1.8"/>
<path d="M1096.0,442.0 C1099.3,437.8 1110.1,424.0 1116.1,417.0 C1122.1,410.0 1126.8,407.2 1132.2,400.0 C1137.6,392.8 1142.4,383.8 1148.3,374.0 C1154.2,364.2 1161.3,351.5 1167.4,341.0 C1173.5,330.5 1180.6,319.0 1185.0,311.0 C1189.4,303.0 1190.9,299.0 1194.0,293.0 C1197.1,287.0 1200.3,281.2 1203.5,275.0 C1206.7,268.8 1209.8,261.0 1213.0,256.0 C1216.2,251.0 1219.3,249.2 1223.0,245.0 C1226.7,240.8 1231.0,234.8 1235.0,230.5 C1239.0,226.2 1242.8,222.1 1247.0,219.0 C1251.2,215.9 1255.2,215.3 1260.0,212.0 C1264.8,208.7 1271.0,202.5 1276.0,199.0 C1281.0,195.5 1284.5,193.0 1290.0,191.0 C1295.5,189.0 1301.0,188.2 1309.0,187.0 C1317.0,185.8 1328.2,185.4 1338.0,184.0 C1347.8,182.6 1358.2,180.0 1368.0,178.4 C1377.8,176.8 1390.0,175.6 1397.0,174.5 C1404.0,173.4 1402.8,173.6 1410.0,172.0 C1417.2,170.4 1430.0,166.8 1440.0,165.0 C1450.0,163.2 1460.0,162.2 1470.0,161.0 C1480.0,159.8 1491.3,158.9 1500.0,158.0 C1508.7,157.1 1518.3,155.9 1522.0,155.5" fill="none" stroke="#02a545" stroke-width="2.6" stroke-dasharray="2.2 1.8"/>
<path d="M72.7,129.1 V444.5 H503.05" fill="none" stroke="#000" stroke-width="2.7" stroke-linejoin="miter" stroke-linecap="butt"/>
<line x1="72.7" y1="130.4" x2="83.2" y2="130.4" stroke="#000" stroke-width="2.7"/>
<line x1="72.7" y1="206.9" x2="83.2" y2="206.9" stroke="#000" stroke-width="2.7"/>
<line x1="72.7" y1="283.4" x2="83.2" y2="283.4" stroke="#000" stroke-width="2.7"/>
<line x1="72.7" y1="359.8" x2="83.2" y2="359.8" stroke="#000" stroke-width="2.7"/>
<line x1="72.7" y1="436.3" x2="83.2" y2="436.3" stroke="#000" stroke-width="2.7"/>
<line x1="158.5" y1="444.5" x2="158.5" y2="434" stroke="#000" stroke-width="2.7"/>
<line x1="244.3" y1="444.5" x2="244.3" y2="434" stroke="#000" stroke-width="2.7"/>
<line x1="330.1" y1="444.5" x2="330.1" y2="434" stroke="#000" stroke-width="2.7"/>
<line x1="415.9" y1="444.5" x2="415.9" y2="434" stroke="#000" stroke-width="2.7"/>
<line x1="501.7" y1="444.5" x2="501.7" y2="434" stroke="#000" stroke-width="2.7"/>
<text x="52.8" y="136.7" text-anchor="middle">45</text>
<text x="52.8" y="213.2" text-anchor="middle">35</text>
<text x="52.8" y="289.7" text-anchor="middle">25</text>
<text x="52.8" y="366.1" text-anchor="middle">15</text>
<text x="52.8" y="442.6" text-anchor="middle">5</text>
<text x="72.7" y="465.6" text-anchor="middle">1</text>
<text x="158.5" y="465.6" text-anchor="middle">5</text>
<text x="244.3" y="465.6" text-anchor="middle">9</text>
<text x="330.1" y="465.6" text-anchor="middle">13</text>
<text x="415.9" y="465.6" text-anchor="middle">17</text>
<text x="501.7" y="465.6" text-anchor="middle">20</text>
<text x="287.2" y="486.4" text-anchor="middle">Period of time</text>
<path d="M593.1,129.1 V444.5 H1023.45" fill="none" stroke="#000" stroke-width="2.7" stroke-linejoin="miter" stroke-linecap="butt"/>
<line x1="593.1" y1="130.4" x2="603.6" y2="130.4" stroke="#000" stroke-width="2.7"/>
<line x1="593.1" y1="206.9" x2="603.6" y2="206.9" stroke="#000" stroke-width="2.7"/>
<line x1="593.1" y1="283.4" x2="603.6" y2="283.4" stroke="#000" stroke-width="2.7"/>
<line x1="593.1" y1="359.8" x2="603.6" y2="359.8" stroke="#000" stroke-width="2.7"/>
<line x1="593.1" y1="436.3" x2="603.6" y2="436.3" stroke="#000" stroke-width="2.7"/>
<line x1="678.9" y1="444.5" x2="678.9" y2="434" stroke="#000" stroke-width="2.7"/>
<line x1="764.7" y1="444.5" x2="764.7" y2="434" stroke="#000" stroke-width="2.7"/>
<line x1="850.5" y1="444.5" x2="850.5" y2="434" stroke="#000" stroke-width="2.7"/>
<line x1="936.3" y1="444.5" x2="936.3" y2="434" stroke="#000" stroke-width="2.7"/>
<line x1="1022.1" y1="444.5" x2="1022.1" y2="434" stroke="#000" stroke-width="2.7"/>
<text x="565.6" y="136.7" text-anchor="middle">1400</text>
<text x="565.6" y="213.2" text-anchor="middle">1200</text>
<text x="565.6" y="289.7" text-anchor="middle">1000</text>
<text x="565.6" y="366.1" text-anchor="middle">800</text>
<text x="565.6" y="442.6" text-anchor="middle">600</text>
<text x="593.1" y="465.6" text-anchor="middle">1</text>
<text x="678.9" y="465.6" text-anchor="middle">5</text>
<text x="764.7" y="465.6" text-anchor="middle">9</text>
<text x="850.5" y="465.6" text-anchor="middle">13</text>
<text x="936.3" y="465.6" text-anchor="middle">17</text>
<text x="1022.1" y="465.6" text-anchor="middle">20</text>
<text x="807.6" y="486.4" text-anchor="middle">Period of time</text>
<path d="M1094.8,129.1 V444.5 H1525.0" fill="none" stroke="#000" stroke-width="2.4" stroke-linejoin="miter" stroke-linecap="butt"/>
<line x1="1180.6" y1="444.5" x2="1180.6" y2="434" stroke="#000" stroke-width="2.4"/>
<line x1="1266.4" y1="444.5" x2="1266.4" y2="434" stroke="#000" stroke-width="2.4"/>
<line x1="1352.2" y1="444.5" x2="1352.2" y2="434" stroke="#000" stroke-width="2.4"/>
<line x1="1438.0" y1="444.5" x2="1438.0" y2="434" stroke="#000" stroke-width="2.4"/>
<line x1="1523.8" y1="444.5" x2="1523.8" y2="434" stroke="#000" stroke-width="2.4"/>
<text x="1072.7" y="136.7" text-anchor="middle">600</text>
<text x="1072.7" y="238.7" text-anchor="middle">500</text>
<text x="1072.7" y="340.6" text-anchor="middle">400</text>
<text x="1072.7" y="442.6" text-anchor="middle">300</text>
<text x="1094.8" y="465.6" text-anchor="middle">1</text>
<text x="1180.6" y="465.6" text-anchor="middle">5</text>
<text x="1266.4" y="465.6" text-anchor="middle">9</text>
<text x="1352.2" y="465.6" text-anchor="middle">13</text>
<text x="1438.0" y="465.6" text-anchor="middle">17</text>
<text x="1523.8" y="465.6" text-anchor="middle">20</text>
<text x="1309.3" y="486.4" text-anchor="middle">Period of time</text>
<text x="156.4" y="507.5" text-anchor="middle">(a)</text>
<text x="758.8" y="507.5" text-anchor="middle">(b)</text>
<text x="1266.6" y="507.5" text-anchor="middle">(c)</text>
<text transform="translate(16.3,287.6) rotate(-90)" text-anchor="middle">Annual timber production/(*</text>
<text transform="translate(37.3,286.5) rotate(-90)" text-anchor="middle">10<tspan font-size="10.5" dy="-8">3</tspan><tspan dy="8">m</tspan><tspan font-size="10.5" dy="-8">3</tspan><tspan dy="8">/year)</tspan></text>
<text transform="translate(541,352.2) rotate(-90)" font-size="19">ESC/</text>
<text transform="translate(541,316) rotate(-90)" font-size="19">（*10<tspan font-size="10.5" dy="-8">3</tspan><tspan dy="8">m</tspan><tspan font-size="10.5" dy="-8">3</tspan><tspan dy="8">）</tspan></text>
<text transform="translate(1047.6,340.3) rotate(-90)" font-family="'Liberation Sans',sans-serif" font-size="17.5">CS/</text>
<text transform="translate(1047.6,313.5) rotate(-90)" font-size="19">（*10<tspan font-size="10.5" dy="-8">3</tspan><tspan dy="8">t）</tspan></text>
</g></svg>
</body></html>
